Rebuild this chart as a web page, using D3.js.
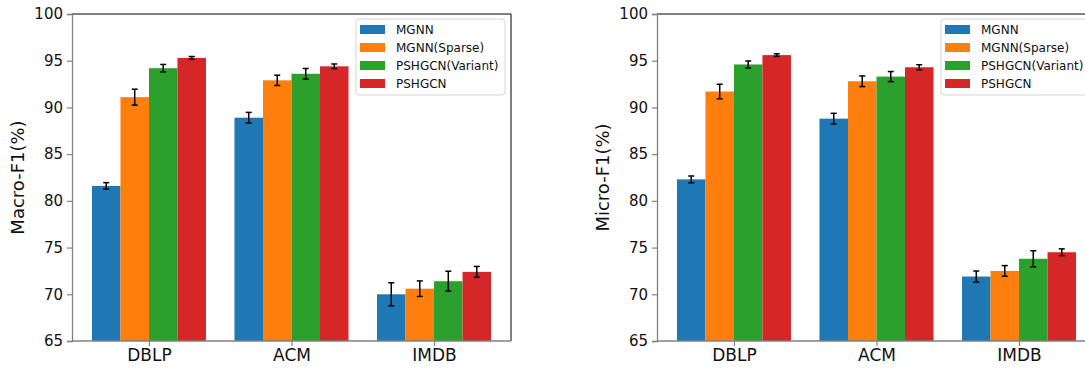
<!DOCTYPE html>
<html lang="en">
<head>
<meta charset="utf-8">
<script src="https://cdn.jsdelivr.net/npm/d3@7"></script>
<style>
  body { margin: 0; background: #fff; }
  text { font-family: "DejaVu Sans", sans-serif; fill: #111; }
</style>
</head>
<body>
<svg id="chart" width="1085" height="371"></svg>
<script>
// datasets on the x axis, methods as the bar series
var datasets = ["DBLP", "ACM", "IMDB"];
var methods = ["MGNN", "MGNN(Sparse)", "PSHGCN(Variant)", "PSHGCN"];
var colors = ["#1f77b4", "#ff7f0e", "#2ca02c", "#d62728"];
var yTicks = [65, 70, 75, 80, 85, 90, 95, 100];

// Macro-F1 mean / std, one row per method (DBLP, ACM, IMDB)
var macroMean = [[81.6, 88.9, 70.0], [91.1, 92.9, 70.6], [94.2, 93.6, 71.4], [95.3, 94.4, 72.4]];
var macroErr  = [[0.35, 0.57, 1.23], [0.85, 0.55, 0.83], [0.40, 0.57, 1.07], [0.15, 0.25, 0.58]];

// Micro-F1 mean / std
var microMean = [[82.3, 88.8, 71.9], [91.7, 92.8, 72.5], [94.6, 93.3, 73.8], [95.6, 94.3, 74.5]];
var microErr  = [[0.36, 0.57, 0.59], [0.78, 0.57, 0.57], [0.37, 0.54, 0.86], [0.14, 0.27, 0.36]];

var svg = d3.select("#chart");
var barW = 0.2;

function drawPanel(left, ylabel, means, errs) {
  var right = left + 439, top = 14, bottom = 341;
  var x = d3.scaleLinear().domain([-0.54, 2.54]).range([left, right]);
  var y = d3.scaleLinear().domain([65, 100]).range([bottom, top]);
  var g = svg.append("g");

  // bars
  methods.forEach(function (m, j) {
    g.selectAll(null)
      .data(datasets)
      .enter()
      .append("rect")
      .attr("x", (d, i) => x(i + (j - 1.5) * barW - barW / 2))
      .attr("width", x(barW) - x(0))
      .attr("y", (d, i) => y(means[j][i]))
      .attr("height", (d, i) => bottom - y(means[j][i]))
      .attr("fill", colors[j]);
  });

  // error bars
  methods.forEach(function (m, j) {
    datasets.forEach(function (d, i) {
      var cx = x(i + (j - 1.5) * barW);
      var lo = y(means[j][i] - errs[j][i]), hi = y(means[j][i] + errs[j][i]);
      g.append("line").attr("x1", cx).attr("x2", cx).attr("y1", lo).attr("y2", hi)
        .attr("stroke", "#000").attr("stroke-width", 1.5);
      [lo, hi].forEach(function (yy) {
        g.append("line").attr("x1", cx - 3).attr("x2", cx + 3).attr("y1", yy).attr("y2", yy)
          .attr("stroke", "#000").attr("stroke-width", 1.5);
      });
    });
  });

  // spines
  g.append("line").attr("x1", left).attr("x2", right).attr("y1", top).attr("y2", top)
    .attr("stroke", "#000").attr("stroke-width", 1);
  g.append("line").attr("x1", right).attr("x2", right).attr("y1", top).attr("y2", bottom)
    .attr("stroke", "#000").attr("stroke-width", 1);

  // y axis
  var yAxis = d3.axisLeft(y).tickValues(yTicks).tickSize(5).tickPadding(4);
  var ya = g.append("g").attr("transform", "translate(" + left + ",0)").call(yAxis);
  ya.select(".domain").attr("stroke", "#808080").attr("stroke-width", 1.3);
  ya.selectAll(".tick line").attr("stroke", "#808080").attr("stroke-width", 1.2);
  ya.selectAll(".tick text").style("font-size", "15px").attr("fill", "#111");

  // x axis
  var xAxis = d3.axisBottom(x).tickValues([0, 1, 2]).tickFormat((d) => datasets[d]).tickSize(5).tickPadding(3);
  var xa = g.append("g").attr("transform", "translate(0," + bottom + ")").call(xAxis);
  xa.select(".domain").attr("d", "M" + left + ",0H" + right)
    .attr("stroke", "#808080").attr("stroke-width", 1.3);
  xa.selectAll(".tick line").attr("stroke", "#808080").attr("stroke-width", 1.2);
  xa.selectAll(".tick text").style("font-size", "17px").attr("fill", "#111");

  // y label
  g.append("text")
    .attr("transform", "translate(" + (left - 48) + "," + ((top + bottom) / 2) + ") rotate(-90)")
    .attr("text-anchor", "middle")
    .style("font-size", "18px")
    .text(ylabel);

  // legend
  var lx = left + 284, ly = 19;
  var lg = g.append("g").attr("transform", "translate(" + lx + "," + ly + ")");
  lg.append("rect").attr("width", 149).attr("height", 76).attr("rx", 3)
    .attr("fill", "#fff").attr("fill-opacity", 0.8).attr("stroke", "#d6d6d6");
  methods.forEach(function (m, j) {
    lg.append("rect").attr("x", 4).attr("y", 6 + j * 18).attr("width", 25).attr("height", 9)
      .attr("fill", colors[j]);
    lg.append("text").attr("x", 40).attr("y", 15 + j * 18)
      .style("font-size", "12px").text(m);
  });
}

drawPanel(72, "Macro-F1(%)", macroMean, macroErr);
drawPanel(657, "Micro-F1(%)", microMean, microErr);
</script>
</body>
</html>
